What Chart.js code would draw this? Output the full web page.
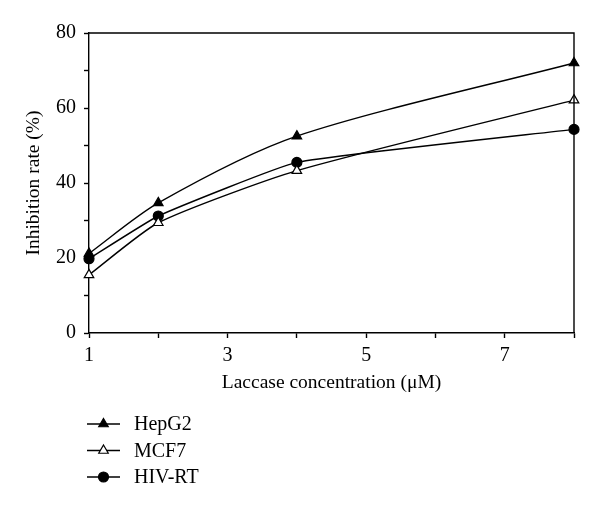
<!DOCTYPE html>
<html>
<head>
<meta charset="utf-8">
<script src="https://cdn.jsdelivr.net/npm/chart.js@4/dist/chart.umd.min.js"></script>
<style>
  html, body { margin: 0; padding: 0; background: #fff; }
  #wrap { width: 600px; height: 508px; position: relative; }
</style>
</head>
<body>
<div id="wrap"><canvas id="inhib-chart"></canvas></div>
<script>
// Concentrations (µM) and inhibition rates (%)
const concentrations = [1, 2, 4, 8];
const hepg2 = [21.2, 34.7, 52.5, 72];
const mcf7 = [15.5, 29.4, 43.3, 62.1];
const hivrt = [19.8, 31.2, 45.5, 54.3];
const seriesNames = ["HepG2", "MCF7", "HIV-RT"];
const yTickLabels = [0, 20, 40, 60, 80];
const xTickLabels = [1, 3, 5, 7];

const serif = "'Liberation Serif', 'DejaVu Serif', serif";

function points(values) {
  return concentrations.map((c, i) => ({ x: c, y: values[i] }));
}

function makeSet(label, values, style, fill, tension) {
  return {
    label: label,
    data: points(values),
    borderColor: "#000",
    borderWidth: 1.4,
    pointStyle: style,
    pointRadius: style === "circle" ? 5 : 5.5,
    pointBackgroundColor: fill,
    pointBorderColor: "#000",
    pointBorderWidth: 1.2,
    tension: tension,
    clip: false,
  };
}

// box around the plot + legend with line and marker under the axis
const framePlugin = {
  id: "frame",
  afterDatasetsDraw(chart) {
    const { ctx, chartArea: a } = chart;
    ctx.save();
    ctx.strokeStyle = "#000";
    ctx.lineWidth = 1.4;
    ctx.beginPath();
    ctx.moveTo(a.left, a.top);
    ctx.lineTo(a.right, a.top);
    ctx.lineTo(a.right, a.bottom);
    ctx.stroke();

    ctx.font = "20px " + serif;
    ctx.textBaseline = "middle";
    chart.data.datasets.forEach((ds, i) => {
      const y = 424 + i * 26.5;
      ctx.beginPath();
      ctx.lineWidth = 1.4;
      ctx.moveTo(87, y);
      ctx.lineTo(120, y);
      ctx.stroke();
      ctx.fillStyle = ds.pointBackgroundColor;
      ctx.lineWidth = 1.2;
      Chart.helpers.drawPoint(ctx, { pointStyle: ds.pointStyle, radius: ds.pointRadius, rotation: 0, borderWidth: 1.2 }, 103.5, y);
      ctx.fillStyle = "#000";
      ctx.fillText(ds.label, 134, y + 1);
    });
    ctx.restore();
  },
};

new Chart(document.getElementById("inhib-chart"), {
  type: "line",
  data: {
    datasets: [
      makeSet(seriesNames[0], hepg2, "triangle", "#000", 0.28),
      makeSet(seriesNames[1], mcf7, "triangle", "#fff", 0.2),
      makeSet(seriesNames[2], hivrt, "circle", "#000", 0.12),
    ],
  },
  options: {
    responsive: true,
    maintainAspectRatio: false,
    animation: false,
    layout: { padding: { top: 33, right: 26, bottom: 111, left: 0 } },
    plugins: { legend: { display: false }, tooltip: { enabled: false } },
    scales: {
      x: {
        type: "linear",
        min: 1,
        max: 8,
        afterFit: (s) => { s.height = 64; },
        afterBuildTicks: (s) => {
          s.ticks = [1, 2, 3, 4, 5, 6, 7, 8].map((v) => ({ value: v }));
        },
        ticks: {
          color: "#000",
          font: { family: serif, size: 20 },
          padding: 6,
          maxRotation: 0,
          callback: (v) => (xTickLabels.includes(v) ? String(v) : ""),
        },
        grid: { drawOnChartArea: false, tickLength: 5, color: "#000", tickWidth: 1.4 },
        border: { color: "#000", width: 1.4 },
        title: {
          display: true,
          text: "Laccase concentration (\u03BCM)",
          color: "#000",
          font: { family: serif, size: 19.5 },
          padding: { top: 0, bottom: 2 },
        },
      },
      y: {
        min: 0,
        max: 80,
        afterFit: (s) => { s.width = 89; },
        afterBuildTicks: (s) => {
          s.ticks = [0, 10, 20, 30, 40, 50, 60, 70, 80].map((v) => ({ value: v }));
        },
        ticks: {
          color: "#000",
          font: { family: serif, size: 20 },
          padding: 8,
          callback: (v) => (yTickLabels.includes(v) ? String(v) : ""),
        },
        grid: { drawOnChartArea: false, tickLength: 5, color: "#000", tickWidth: 1.4 },
        border: { color: "#000", width: 1.4 },
        title: {
          display: true,
          text: "Inhibition rate (%)",
          color: "#000",
          font: { family: serif, size: 19.5 },
          padding: { top: 22, bottom: 0 },
        },
      },
    },
  },
  plugins: [framePlugin],
});
</script>
</body>
</html>
